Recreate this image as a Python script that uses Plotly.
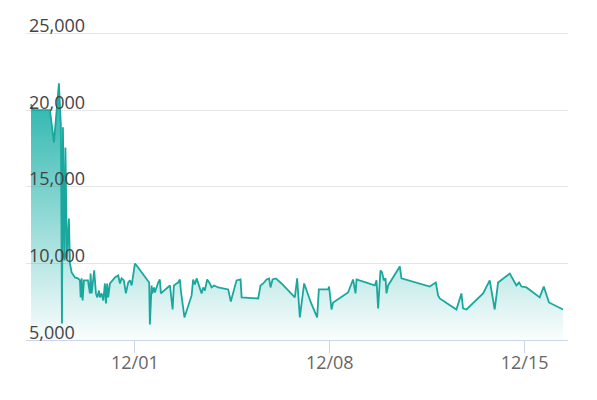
import plotly.graph_objects as go

# price history
times = [
    "2023-11-27 06:24", "2023-11-27 08:06", "2023-11-27 22:45", "2023-11-28 02:12",
    "2023-11-28 06:30", "2023-11-28 08:12", "2023-11-28 09:06", "2023-11-28 09:57",
    "2023-11-28 11:15", "2023-11-28 12:06", "2023-11-28 13:24", "2023-11-28 15:06",
    "2023-11-28 16:00", "2023-11-28 17:27", "2023-11-28 20:18", "2023-11-28 22:54",
    "2023-11-29 00:36", "2023-11-29 01:12", "2023-11-29 02:06", "2023-11-29 02:54",
    "2023-11-29 04:03", "2023-11-29 07:30", "2023-11-29 09:12", "2023-11-29 09:48",
    "2023-11-29 10:42", "2023-11-29 12:06", "2023-11-29 12:54", "2023-11-29 14:24",
    "2023-11-29 15:30", "2023-11-29 17:00", "2023-11-29 17:48", "2023-11-29 19:18",
    "2023-11-29 20:42", "2023-11-29 22:09", "2023-11-29 23:00", "2023-11-30 00:06",
    "2023-11-30 01:00", "2023-11-30 02:30", "2023-11-30 06:48", "2023-11-30 09:36",
    "2023-11-30 11:06", "2023-11-30 12:30", "2023-11-30 14:30", "2023-11-30 16:12",
    "2023-11-30 18:12", "2023-11-30 19:42", "2023-11-30 21:12", "2023-12-01 00:00",
    "2023-12-01 01:30", "2023-12-01 12:18", "2023-12-01 12:54", "2023-12-01 14:24",
    "2023-12-01 14:54", "2023-12-01 16:24", "2023-12-01 17:12", "2023-12-01 20:06",
    "2023-12-01 21:30", "2023-12-01 22:24", "2023-12-02 03:18", "2023-12-02 06:12",
    "2023-12-02 08:30", "2023-12-02 09:36", "2023-12-02 11:54", "2023-12-02 13:18",
    "2023-12-02 14:48", "2023-12-02 15:36", "2023-12-02 18:42", "2023-12-02 21:54",
    "2023-12-03 00:54", "2023-12-03 02:12", "2023-12-03 03:42", "2023-12-03 05:12",
    "2023-12-03 07:24", "2023-12-03 09:30", "2023-12-03 10:54", "2023-12-03 12:18",
    "2023-12-03 14:18", "2023-12-03 16:36", "2023-12-03 18:06", "2023-12-03 20:18",
    "2023-12-03 23:48", "2023-12-04 08:24", "2023-12-04 10:42", "2023-12-04 12:42",
    "2023-12-04 15:36", "2023-12-04 19:06", "2023-12-04 20:00", "2023-12-05 10:18",
    "2023-12-05 12:18", "2023-12-05 14:36", "2023-12-05 17:30", "2023-12-05 19:42",
    "2023-12-05 20:54", "2023-12-05 22:42", "2023-12-06 01:30", "2023-12-06 06:24",
    "2023-12-06 10:42", "2023-12-06 15:00", "2023-12-06 17:54", "2023-12-06 19:54",
    "2023-12-06 22:12", "2023-12-07 01:54", "2023-12-07 07:42", "2023-12-07 13:06",
    "2023-12-07 14:36", "2023-12-07 22:36", "2023-12-07 23:24", "2023-12-08 01:30",
    "2023-12-08 02:54", "2023-12-08 15:48", "2023-12-08 20:06", "2023-12-08 22:12",
    "2023-12-08 23:06", "2023-12-09 14:48", "2023-12-09 16:18", "2023-12-09 17:42",
    "2023-12-09 19:42", "2023-12-09 21:06", "2023-12-09 22:36", "2023-12-10 00:06",
    "2023-12-10 00:54", "2023-12-10 02:18", "2023-12-10 12:24", "2023-12-10 13:48",
    "2023-12-11 14:12", "2023-12-11 19:24", "2023-12-11 21:24", "2023-12-11 22:48",
    "2023-12-12 13:12", "2023-12-12 17:30", "2023-12-12 18:54", "2023-12-12 21:54",
    "2023-12-13 12:12", "2023-12-13 17:54", "2023-12-13 22:12", "2023-12-14 01:06",
    "2023-12-14 05:24", "2023-12-14 11:12", "2023-12-14 16:54", "2023-12-14 19:12",
    "2023-12-14 21:18", "2023-12-15 01:36", "2023-12-15 13:00", "2023-12-15 16:30",
    "2023-12-15 21:00", "2023-12-16 09:06",
]
prices = [
    20380, 20000, 20000, 17900, 21750, 18940, 6080, 18880,
    10190, 17570, 10320, 12930, 10000, 9410, 9080, 9020,
    8890, 7780, 9020, 7580, 8890, 8890, 8040, 9340,
    8040, 9080, 9540, 8040, 7780, 8230, 7780, 8040,
    7580, 8690, 7380, 8690, 7780, 8690, 9080, 9210,
    8690, 9020, 8890, 8040, 8750, 8890, 8560, 9990,
    9860, 8750, 6010, 8560, 8040, 8430, 8100, 8750,
    8950, 8040, 8360, 8560, 6990, 8560, 8690, 8750,
    8950, 8230, 6470, 7190, 7910, 8950, 8620, 9020,
    8560, 8040, 8430, 8230, 8950, 8690, 8430, 8560,
    8430, 8300, 7510, 8100, 8890, 8950, 7780, 7710,
    8560, 8690, 8950, 9020, 8430, 8950, 9020, 8690,
    8360, 8040, 7780, 9020, 6470, 8690, 7450, 6470,
    8300, 8300, 8490, 6990, 7450, 8100, 8950, 8040,
    8950, 8560, 8890, 7060, 9540, 9410, 8890, 9020,
    8040, 8560, 9800, 9020, 8490, 8750, 7910, 7710,
    6990, 8040, 7060, 6990, 8040, 8890, 6990, 8750,
    9020, 9340, 8560, 8750, 8490, 8430, 7780, 8490,
    7450, 6990,
]

y_ticks = [5000, 10000, 15000, 20000, 25000]
y_tick_text = ["5,000", "10,000", "15,000", "20,000", "25,000"]

teal = "#1aa89e"

fig = go.Figure()
fig.add_trace(go.Scatter(
    x=times, y=prices, mode="lines", fill="tozeroy",
    line=dict(color=teal, width=1.8),
    fillgradient=dict(type="vertical", start=5000, stop=21750,
                      colorscale=[[0, "rgba(32,178,170,0.02)"],
                                  [1, "rgba(32,178,170,1)"]]),
    hoverinfo="skip", showlegend=False,
))

# page body has an 8px margin, so the figure is sized to fit inside the window
fig.update_layout(
    width=589, height=392,
    margin=dict(l=18, r=29, t=24, b=60),
    paper_bgcolor="white", plot_bgcolor="white",
    font=dict(family="Open Sans, Noto Sans, sans-serif", size=18, color="#666666"),
)
fig.update_xaxes(
    range=["2023-11-27 02:06", "2023-12-16 13:24"],
    tick0="2023-12-01", dtick=7 * 24 * 3600 * 1000, tickformat="%m/%d",
    showgrid=False, zeroline=False, automargin=False,
    showline=True, linecolor="#ccd6eb", linewidth=1,
    ticks="outside", ticklen=12, tickcolor="#ccd6eb", tickwidth=1,
    ticklabelstandoff=-6,
)
# upper bound a bit above 25,000 so its gridline is not clipped at the edge
fig.update_yaxes(
    range=[5000, 25100], tickvals=y_ticks, ticktext=y_tick_text,
    ticklabelposition="inside top", ticklabeloverflow="allow",
    ticklabelshift=5, automargin=False,
    showgrid=True, gridcolor="#e6e6e6", gridwidth=1,
    zeroline=False, showline=False, ticks="",
)

fig.write_html("out.html")
